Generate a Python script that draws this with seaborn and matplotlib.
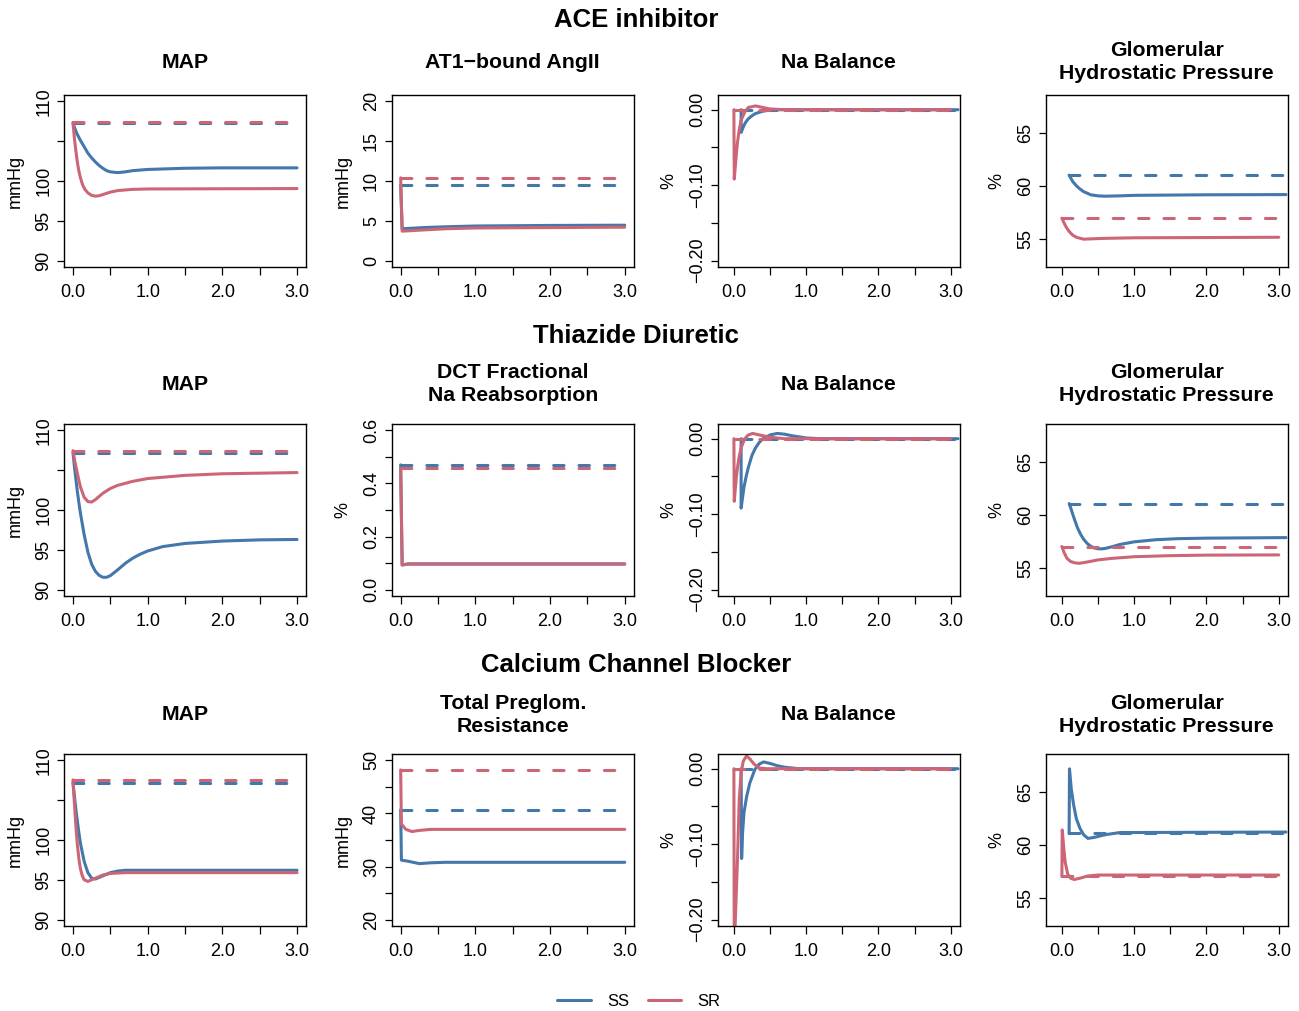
import numpy as np
import pandas as pd
import matplotlib
matplotlib.use("Agg")
import matplotlib.pyplot as plt
import seaborn as sns
from matplotlib.lines import Line2D

# ---- data (time in years) ----
SS_COLOR = "#4477AA"
SR_COLOR = "#CC6677"

# ACE inhibitor
ace_map_t_ss = [0, 0.05, 0.1, 0.15, 0.2, 0.25, 0.3, 0.35, 0.4, 0.45, 0.5, 0.6, 0.7, 0.8, 1.0, 1.5, 2.0, 3.0]
ace_map_ss = [107.25, 106.0, 105.1, 104.3, 103.5, 102.9, 102.4, 101.95, 101.6, 101.3, 101.15, 101.05, 101.15, 101.3, 101.45, 101.6, 101.65, 101.65]
ace_map_t_sr = [0, 0.02, 0.04, 0.06, 0.08, 0.1, 0.13, 0.16, 0.2, 0.25, 0.3, 0.35, 0.4, 0.5, 0.6, 0.8, 1.0, 3.0]
ace_map_sr = [107.35, 105.3, 103.7, 102.3, 101.2, 100.4, 99.5, 98.95, 98.5, 98.2, 98.1, 98.15, 98.3, 98.6, 98.8, 98.95, 99.0, 99.05]
ace_map_base = [107.25, 107.35]

ace_at1_t_ss = [0, 0.02, 0.3, 0.6, 1.0, 2.0, 3.0]
ace_at1_ss = [9.5, 4.0, 4.15, 4.25, 4.35, 4.42, 4.45]
ace_at1_t_sr = [0, 0.02, 0.3, 0.6, 1.0, 2.0, 3.0]
ace_at1_sr = [10.4, 3.7, 3.85, 4.0, 4.1, 4.15, 4.2]
ace_at1_base = [9.5, 10.4]

ace_na_t_ss = [0.1, 0.1, 0.13, 0.16, 0.2, 0.25, 0.3, 0.4, 0.5, 0.6, 3.1]
ace_na_ss = [0, -0.03, -0.023, -0.017, -0.012, -0.008, -0.005, -0.002, -0.0005, 0, 0]
ace_na_t_sr = [0, 0.005, 0.02, 0.035, 0.05, 0.075, 0.1, 0.15, 0.2, 0.3, 0.4, 0.5, 0.7, 3.0]
ace_na_sr = [0, -0.092, -0.075, -0.058, -0.043, -0.026, -0.014, -0.003, 0.003, 0.005, 0.003, 0.001, 0, 0]
ace_na_base = [0.0, 0.0]

ace_glom_t_ss = [0.1, 0.15, 0.2, 0.25, 0.3, 0.4, 0.5, 0.6, 0.8, 1.0, 2.0, 3.1]
ace_glom_ss = [61.05, 60.45, 60.05, 59.75, 59.5, 59.2, 59.1, 59.07, 59.1, 59.15, 59.2, 59.22]
ace_glom_t_sr = [0, 0.03, 0.06, 0.1, 0.15, 0.2, 0.3, 0.4, 0.6, 1.0, 3.0]
ace_glom_sr = [57.0, 56.55, 56.15, 55.75, 55.4, 55.2, 55.02, 55.05, 55.1, 55.15, 55.2]
ace_glom_base = [61.05, 57.0]

# Thiazide diuretic
th_map_t_ss = [0, 0.025, 0.05, 0.075, 0.1, 0.15, 0.2, 0.25, 0.3, 0.35, 0.4, 0.45, 0.5,
               0.6, 0.7, 0.8, 0.9, 1.0, 1.2, 1.5, 2.0, 2.5, 3.0]
th_map_ss = [107.2, 105.0, 103.0, 101.2, 99.6, 96.9, 94.7, 93.2, 92.3, 91.8, 91.55, 91.55, 91.75,
             92.5, 93.3, 93.95, 94.45, 94.85, 95.4, 95.8, 96.1, 96.25, 96.3]
th_map_t_sr = [0, 0.025, 0.05, 0.075, 0.1, 0.15, 0.2, 0.25, 0.3, 0.35, 0.4, 0.5, 0.6, 0.8, 1.0, 1.5, 2.0, 3.0]
th_map_sr = [107.45, 106.1, 105.0, 103.9, 102.9, 101.6, 101.05, 101.0, 101.3, 101.7, 102.1, 102.7,
             103.1, 103.6, 103.95, 104.35, 104.55, 104.7]
th_map_base = [107.2, 107.45]

th_dct_t_ss = [0, 0.02, 0.1, 3.0]
th_dct_ss = [0.47, 0.093, 0.097, 0.097]
th_dct_t_sr = [0, 0.02, 0.1, 3.0]
th_dct_sr = [0.457, 0.093, 0.096, 0.096]
th_dct_base = [0.47, 0.457]

th_na_t_ss = [0.1, 0.1, 0.12, 0.14, 0.17, 0.2, 0.25, 0.3, 0.35, 0.4, 0.5, 0.6, 0.7, 0.8, 1.0, 1.2, 3.1]
th_na_ss = [0, -0.092, -0.078, -0.064, -0.05, -0.038, -0.022, -0.012, -0.005, 0.0, 0.005, 0.007,
            0.006, 0.004, 0.001, 0, 0]
th_na_t_sr = [0, 0.005, 0.02, 0.035, 0.05, 0.075, 0.1, 0.15, 0.2, 0.26, 0.35, 0.5, 0.7, 3.0]
th_na_sr = [0, -0.083, -0.066, -0.05, -0.038, -0.023, -0.012, 0.0, 0.005, 0.007, 0.005, 0.002, 0, 0]
th_na_base = [0.0, 0.0]

th_glom_t_ss = [0.1, 0.12, 0.15, 0.18, 0.22, 0.26, 0.3, 0.35, 0.4, 0.45, 0.5, 0.55, 0.6,
                0.7, 0.8, 1.0, 1.3, 1.6, 2.0, 3.1]
th_glom_ss = [61.1, 60.75, 60.1, 59.5, 58.75, 58.2, 57.75, 57.35, 57.08, 56.92, 56.85, 56.84, 56.88,
              57.05, 57.25, 57.5, 57.7, 57.8, 57.85, 57.9]
th_glom_t_sr = [0, 0.03, 0.07, 0.12, 0.18, 0.24, 0.35, 0.5, 0.7, 1.0, 1.5, 2.0, 3.0]
th_glom_sr = [57.06, 56.5, 55.95, 55.65, 55.52, 55.48, 55.6, 55.8, 55.95, 56.1, 56.2, 56.25, 56.27]
th_glom_base = [61.1, 57.06]

# Calcium channel blocker
ccb_map_t_ss = [0, 0.025, 0.05, 0.075, 0.1, 0.15, 0.2, 0.25, 0.3, 0.4, 0.5, 0.6, 0.7, 1.0, 3.0]
ccb_map_ss = [107.2, 105.0, 103.0, 101.2, 99.6, 97.3, 95.9, 95.2, 95.1, 95.5, 95.9, 96.1, 96.2, 96.2, 96.2]
ccb_map_t_sr = [0, 0.015, 0.03, 0.045, 0.06, 0.08, 0.1, 0.125, 0.15, 0.2, 0.3, 0.4, 0.5, 0.7, 3.0]
ccb_map_sr = [107.55, 105.2, 103.0, 101.0, 99.3, 97.6, 96.4, 95.5, 95.0, 94.8, 95.2, 95.6, 95.8, 95.9, 95.9]
ccb_map_base = [107.2, 107.55]

ccb_pg_t_ss = [0, 0.01, 0.1, 0.25, 0.4, 0.6, 3.0]
ccb_pg_ss = [40.7, 31.2, 31.0, 30.55, 30.7, 30.8, 30.8]
ccb_pg_t_sr = [0, 0.01, 0.07, 0.15, 0.25, 0.4, 3.0]
ccb_pg_sr = [48.2, 38.0, 37.0, 36.6, 36.8, 37.0, 37.0]
ccb_pg_base = [40.7, 48.2]

ccb_na_t_ss = [0.1, 0.107, 0.12, 0.14, 0.176, 0.22, 0.29, 0.35, 0.41, 0.5, 0.6, 0.7, 0.9, 3.1]
ccb_na_ss = [0, -0.119, -0.085, -0.058, -0.037, -0.019, -0.001, 0.006, 0.009, 0.007, 0.004, 0.002, 0, 0]
ccb_na_t_sr = [0, 0.005, 0.02, 0.05, 0.074, 0.1, 0.13, 0.175, 0.22, 0.28, 0.35, 0.45, 3.0]
ccb_na_sr = [0, -0.25, -0.2, -0.12, -0.04, -0.005, 0.01, 0.017, 0.013, 0.006, 0.001, 0, 0]
ccb_na_base = [0.0, 0.0]

ccb_glom_t_ss = [0.1, 0.105, 0.13, 0.16, 0.2, 0.25, 0.3, 0.36, 0.45, 0.6, 0.8, 3.1]
ccb_glom_ss = [61.1, 67.2, 65.3, 63.9, 62.5, 61.6, 61.0, 60.65, 60.75, 61.0, 61.2, 61.25]
ccb_glom_t_sr = [0, 0.005, 0.025, 0.046, 0.08, 0.12, 0.17, 0.25, 0.35, 0.5, 3.0]
ccb_glom_sr = [57.05, 61.45, 59.8, 58.4, 57.3, 56.9, 56.78, 56.9, 57.1, 57.2, 57.2]
ccb_glom_base = [61.12, 57.08]

row_titles = ["ACE inhibitor", "Thiazide Diuretic", "Calcium Channel Blocker"]

# axis setups
MAP_AX = dict(ylim=(89.2, 110.8), yticks=[90, 95, 100, 105, 110], ylabels=["90", "95", "100", "", "110"], ylabel="mmHg")
NA_AX = dict(ylim=(-0.2085, 0.0195), yticks=[-0.2, -0.15, -0.1, -0.05, 0.0],
             ylabels=["\u22120.20", "", "\u22120.10", "", "0.00"], ylabel="%")
GLOM_AX = dict(ylim=(52.4, 68.6), yticks=[55, 60, 65], ylabels=["55", "60", "65"], ylabel="%")
AT1_AX = dict(ylim=(-0.8, 20.8), yticks=[0, 5, 10, 15, 20], ylabels=["0", "5", "10", "15", "20"], ylabel="mmHg")
DCT_AX = dict(ylim=(-0.024, 0.624), yticks=[0, 0.1, 0.2, 0.3, 0.4, 0.5, 0.6],
              ylabels=["0.0", "", "0.2", "", "0.4", "", "0.6"], ylabel="%")
PG_AX = dict(ylim=(18.8, 51.2), yticks=[20, 25, 30, 35, 40, 45, 50],
             ylabels=["20", "", "30", "", "40", "", "50"], ylabel="mmHg")

panels = [
    [("MAP", MAP_AX, False, ace_map_t_ss, ace_map_ss, ace_map_t_sr, ace_map_sr, ace_map_base),
     ("AT1\u2212bound AngII", AT1_AX, False, ace_at1_t_ss, ace_at1_ss, ace_at1_t_sr, ace_at1_sr, ace_at1_base),
     ("Na Balance", NA_AX, True, ace_na_t_ss, ace_na_ss, ace_na_t_sr, ace_na_sr, ace_na_base),
     ("Glomerular\nHydrostatic Pressure", GLOM_AX, True, ace_glom_t_ss, ace_glom_ss, ace_glom_t_sr, ace_glom_sr, ace_glom_base)],
    [("MAP", MAP_AX, False, th_map_t_ss, th_map_ss, th_map_t_sr, th_map_sr, th_map_base),
     ("DCT Fractional\nNa Reabsorption", DCT_AX, False, th_dct_t_ss, th_dct_ss, th_dct_t_sr, th_dct_sr, th_dct_base),
     ("Na Balance", NA_AX, True, th_na_t_ss, th_na_ss, th_na_t_sr, th_na_sr, th_na_base),
     ("Glomerular\nHydrostatic Pressure", GLOM_AX, True, th_glom_t_ss, th_glom_ss, th_glom_t_sr, th_glom_sr, th_glom_base)],
    [("MAP", MAP_AX, False, ccb_map_t_ss, ccb_map_ss, ccb_map_t_sr, ccb_map_sr, ccb_map_base),
     ("Total Preglom.\nResistance", PG_AX, False, ccb_pg_t_ss, ccb_pg_ss, ccb_pg_t_sr, ccb_pg_sr, ccb_pg_base),
     ("Na Balance", NA_AX, True, ccb_na_t_ss, ccb_na_ss, ccb_na_t_sr, ccb_na_sr, ccb_na_base),
     ("Glomerular\nHydrostatic Pressure", GLOM_AX, True, ccb_glom_t_ss, ccb_glom_ss, ccb_glom_t_sr, ccb_glom_sr, ccb_glom_base)],
]

# ---- style ----
sns.set_theme(style="ticks")
plt.rcParams["font.family"] = ["Liberation Sans", "DejaVu Sans"]
for key in ["text.color", "axes.labelcolor", "xtick.color", "ytick.color", "axes.edgecolor"]:
    plt.rcParams[key] = "black"

W, H = 1299, 1011
fig = plt.figure(figsize=(W / 100, H / 100), dpi=100)

col_left = [64, 391.7, 717.7, 1045.7]
row_top = [95, 424, 754]
AW, AH = 242, 172
title_y = [62, 384, 715]
row_title_y = [20, 336, 665]

LW = 2.2
DASH = (0, (3.4, 4.9))

for r in range(3):
    fig.text(636 / W, 1 - row_title_y[r] / H, row_titles[r], ha="center", va="center",
             fontsize=18.5, fontweight="bold")
    for c in range(4):
        title, axcfg, shifted, t_ss, v_ss, t_sr, v_sr, base = panels[r][c]
        x0, y0 = col_left[c], row_top[r]
        ax = fig.add_axes([x0 / W, 1 - (y0 + AH) / H, AW / W, AH / H])

        ss_span = [0.1, 3.1] if shifted else [0, 3.0]
        sns.lineplot(x=t_ss, y=v_ss, ax=ax, color=SS_COLOR, lw=LW, estimator=None, sort=False,
                     solid_capstyle="round", solid_joinstyle="round")
        sns.lineplot(x=ss_span, y=[base[0], base[0]], ax=ax, color=SS_COLOR, lw=LW, estimator=None,
                     sort=False, linestyle=DASH, dash_capstyle="round")
        sns.lineplot(x=t_sr, y=v_sr, ax=ax, color=SR_COLOR, lw=LW, estimator=None, sort=False,
                     solid_capstyle="round", solid_joinstyle="round")
        sns.lineplot(x=[0, 3.0], y=[base[1], base[1]], ax=ax, color=SR_COLOR, lw=LW, estimator=None,
                     sort=False, linestyle=DASH, dash_capstyle="round")

        ax.set_xlim((-0.224, 3.124) if shifted else (-0.12, 3.12))
        ax.set_ylim(axcfg["ylim"])
        ax.set_xticks([0, 0.5, 1.0, 1.5, 2.0, 2.5, 3.0])
        ax.set_xticklabels(["0.0", "", "1.0", "", "2.0", "", "3.0"])
        ax.set_yticks(axcfg["yticks"])
        ax.set_yticklabels(axcfg["ylabels"], rotation=90, va="center")
        ax.tick_params(axis="both", direction="out", length=5.4, width=0.9, color="black",
                       labelsize=13, labelcolor="black")
        ax.tick_params(axis="x", pad=7)
        ax.tick_params(axis="y", pad=3)
        for s in ax.spines.values():
            s.set_visible(True)
            s.set_linewidth(1.0)
            s.set_color("black")
        ax.set_xlabel("")
        ax.set_ylabel(axcfg["ylabel"], fontsize=13, va="baseline")
        ax.yaxis.set_label_coords(-44 / AW, 0.5)

        fig.text((x0 + AW / 2) / W, 1 - title_y[r] / H, title, ha="center", va="center",
                 fontsize=15.3, fontweight="bold", linespacing=1.3)

handles = [Line2D([], [], color=SS_COLOR, lw=LW), Line2D([], [], color=SR_COLOR, lw=LW)]
fig.legend(handles, ["SS", "SR"], loc="center", bbox_to_anchor=(639 / W, 1 - 1001 / H), ncol=2,
           frameon=False, fontsize=12, handlelength=2.0, handletextpad=1.0, columnspacing=1.1)

fig.savefig("out.png", dpi=100, facecolor="white")
